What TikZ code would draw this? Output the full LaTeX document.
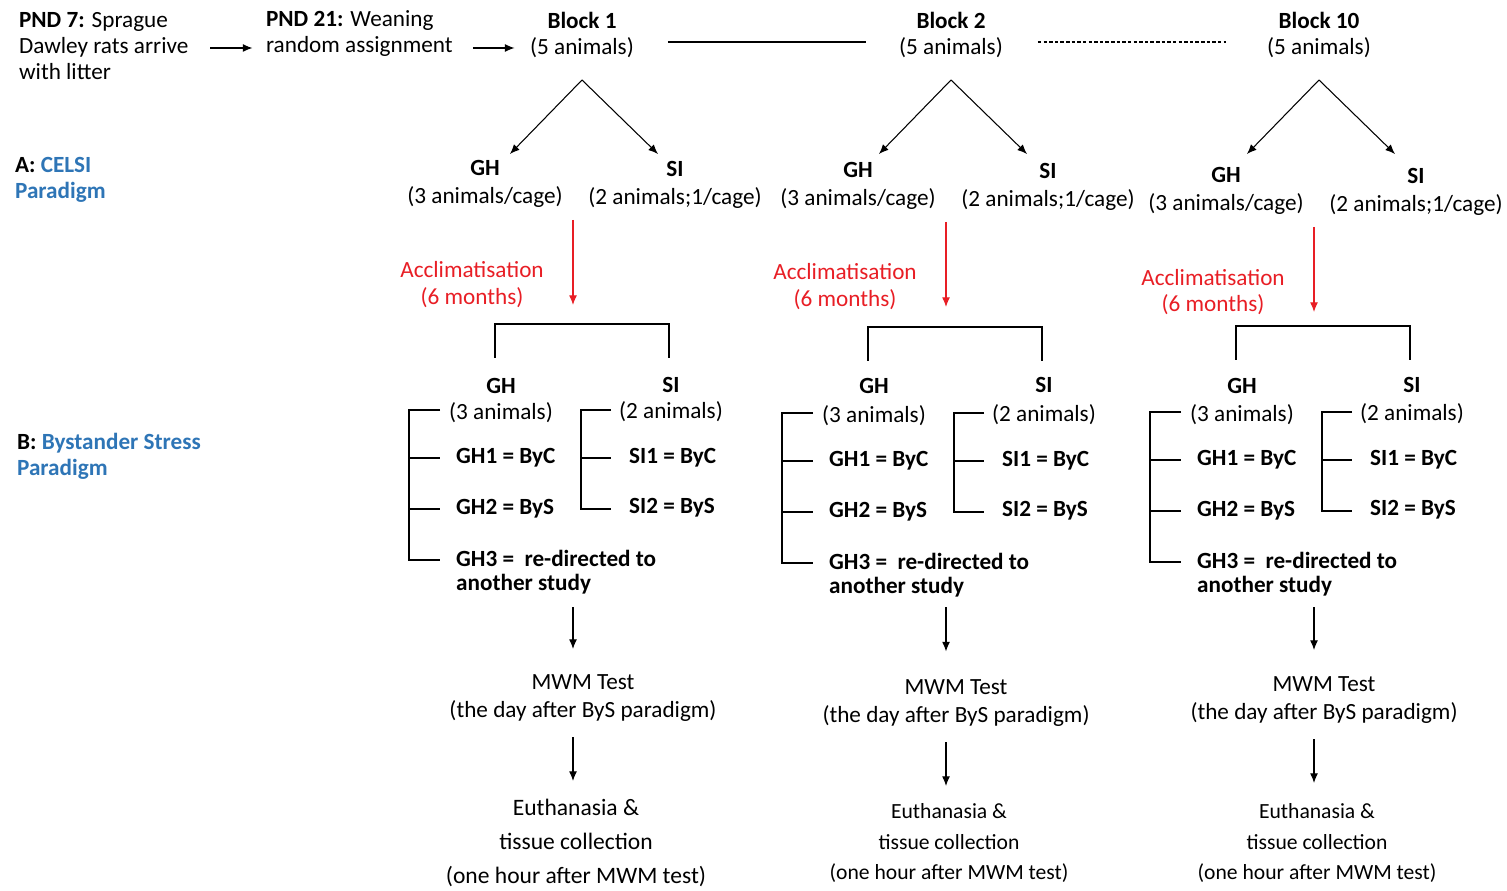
\documentclass[tikz,border=0pt]{standalone}
\usepackage{fontspec}
\setmainfont{Carlito}
\usetikzlibrary{arrows.meta}
\definecolor{parblue}{HTML}{2E75B6}
\definecolor{accred}{HTML}{E81E25}
\tikzset{
  txt/.style={inner sep=1pt, font=\fontsize{13.2}{14.8}\selectfont},
  hd/.style={inner sep=1pt, font=\fontsize{13.2}{14.8}\selectfont\bfseries},
  conn/.style={line width=0.6pt},
}
\begin{document}
\begin{tikzpicture}[>={Latex[length=5.5pt,width=4.5pt]}, x=0.02cm, y=-0.02cm]
\useasboundingbox (0,0) rectangle (1507,891);

\node[txt, anchor=west, align=left] (pnd7) at (17,46) {\textbf{PND 7:} Sprague\\Dawley rats arrive\\with litter};
\node[txt, anchor=west, align=left] (pnd21) at (264,34) {\textbf{PND 21:} Weaning\\random assignment};

\node[hd, anchor=west, align=left] (parA) at (13,180) {A: \textcolor{parblue}{CELSI}\\\textcolor{parblue}{Paradigm}};
\node[hd, anchor=west, align=left] (parB) at (15,456) {B: \textcolor{parblue}{Bystander Stress}\\\textcolor{parblue}{Paradigm}};

\foreach \n/\r/\a/\t/\u/\v/\w/\es/\eb in {1/573/9/1/0/0/0/13.4/19.4,2/946/5/2/2/3/5/12.3/17.4,3/1314/5/10/7/2/2/12.3/17.4}
{
    % block head
    \node[hd] (blk\n) at (\r+\a,20) {Block \t};
    \node[txt] (five\n) at (\r+\a,48) {(5 animals)};
    \coordinate (apx\n) at (\r+\a,80);
    \coordinate (tl\n) at (\r+\a-72,154);
    \coordinate (tr\n) at (\r+\a+76,154);
    \draw[conn,->] (apx\n) -- (tl\n);
    \draw[conn,->] (apx\n) -- (tr\n);
    % CELSI housing
    \node[hd] (gh\n) at (\r-88,168+\u) {GH};
    \node[txt] (ghc\n) at (\r-88,197+\u) {(3 animals/cage)};
    \node[hd] (si\n) at (\r+102,169+\u) {SI};
    \node[txt] (sic\n) at (\r+102,198+\u) {(2 animals;1/cage)};
    % acclimatisation
    \coordinate (ra\n) at (\r,220+\u);
    \coordinate (rb\n) at (\r,305+\u);
    \draw[conn,accred,->] (ra\n) -- (rb\n);
    \node[txt, text=accred, align=center, font=\fontsize{13.2}{15.3}\selectfont] (acc\n) at (\r-101,285+\u) {Acclimatisation\\(6 months)};
    % split
    \coordinate (bl\n) at (\r-78,358+\v);
    \coordinate (br\n) at (\r+96,358+\v);
    \draw[conn] (bl\n) -- ++(0,-34) -| (br\n);
    \node[hd] (gh\n b) at (\r-72,386) {GH};
    \node[txt] (gha\n) at (\r-72,413+\v) {(3 animals)};
    \node[hd] (si\n b) at (\r+98,385) {SI};
    \node[txt] (sia\n) at (\r+98,412+\v) {(2 animals)};
    % bystander groups
    \draw[conn] (\r-133,410+\v) -| (\r-164,560+\v) -- ++(31,0);
    \draw[conn] (\r-164,458+\v) -- ++(31,0);
    \draw[conn] (\r-164,509+\v) -- ++(31,0);
    \draw[conn] (\r+38,410+\v) -| (\r+8,509+\v) -- ++(30,0);
    \draw[conn] (\r+8,458+\v) -- ++(30,0);
    \node[hd, anchor=west] (g1\n) at (\r-119,458+\v) {GH1 = ByC};
    \node[hd, anchor=west] (g2\n) at (\r-119,509+\v) {GH2 = ByS};
    \node[hd, anchor=west, align=left, font=\fontsize{13.2}{13.6}\selectfont\bfseries] (g3\n) at (\r-119,572+\v) {GH3 = ~re-directed to\\another study};
    \node[hd, anchor=west] (s1\n) at (\r+54,458+\v) {SI1 = ByC};
    \node[hd, anchor=west] (s2\n) at (\r+54,508+\v) {SI2 = ByS};
    % tests
    \coordinate (ka\n) at (\r,607);
    \coordinate (kb\n) at (\r,649+\w/2);
    \draw[conn,->] (ka\n) -- (kb\n);
    \node[txt, align=center, font=\fontsize{13.2}{15.9}\selectfont] (mwm\n) at (\r+10,698+\w) {MWM Test\\(the day after ByS paradigm)};
    \coordinate (kc\n) at (\r,737+\w);
    \coordinate (kd\n) at (\r,781+\w);
    \draw[conn,->] (kc\n) -- (kd\n);
    \node[txt, align=center, font=\fontsize{\es}{\eb}\selectfont] (eu\n) at (\r+3,843) {Euthanasia \&\\tissue collection\\(one hour after MWM test)};
}

\draw[conn,->, shorten <=0.4cm, shorten >=0.23cm] (pnd7.east |- five1) -- (pnd21.west |- five1);
\draw[conn,->, shorten <=0.36cm, shorten >=0.27cm] (pnd21.east |- five1) -- (five1.west);
\draw[conn, shorten <=0.64cm, shorten >=0.62cm] ([yshift=3.4pt]five1.east) -- ([yshift=3.4pt]five2.west);
\draw[conn, dash pattern=on 2pt off 1.2pt, shorten <=0.66cm, shorten >=0.78cm] ([yshift=3.4pt]five2.east) -- ([yshift=3.4pt]five3.west);

\end{tikzpicture}
\end{document}
